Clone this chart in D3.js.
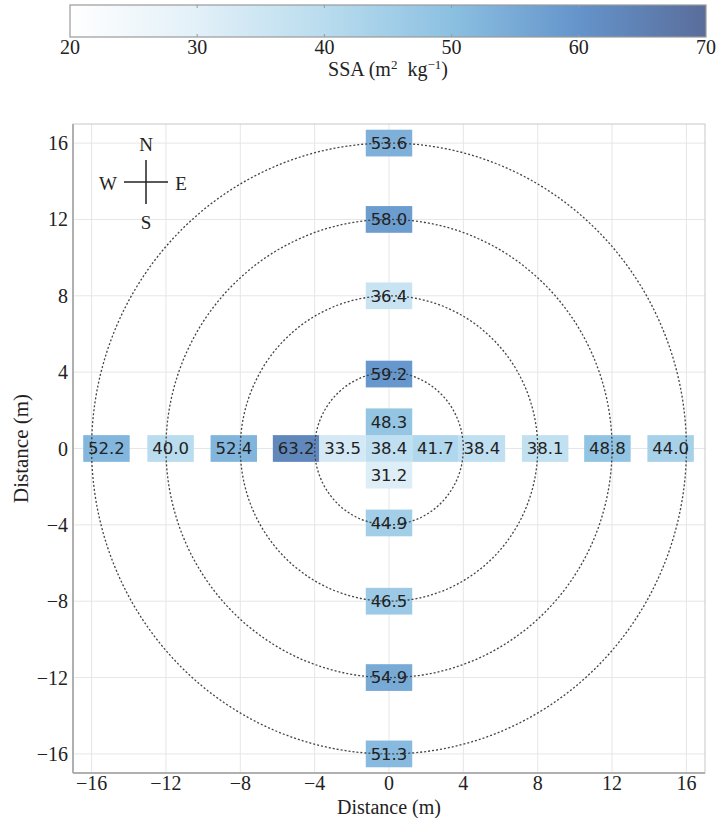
<!DOCTYPE html>
<html><head><meta charset="utf-8">
<script src="https://cdn.jsdelivr.net/npm/d3@7"></script>
<style>body{margin:0;background:#fff}svg{display:block}</style>
</head><body><svg id="c" width="718" height="818"></svg>
<script>
// Data: horizontal (W–E) transect
const rowX = [-15.2, -11.75, -8.35, -5, -2.5, 0, 2.5, 5, 8.4, 11.75, 15.15];
const rowVal = [52.2, 40.0, 52.4, 63.2, 33.5, 38.4, 41.7, 38.4, 38.1, 48.8, 44.0];
// vertical (N–S) transect (excluding centre)
const colY = [16, 12, 8, 3.9, 1.4, -1.4, -3.9, -8, -12, -16];
const colVal = [53.6, 58.0, 36.4, 59.2, 48.3, 31.2, 44.9, 46.5, 54.9, 51.3];
const ringR = [4, 8, 12, 16];
const axisTicks = [-16, -12, -8, -4, 0, 4, 8, 12, 16];
const cbTicks = [20, 30, 40, 50, 60, 70];
const cbStops = [20, 30, 40, 50, 60, 70];
const cbColors = ["#ffffff", "#e2f0f8", "#b9dcee", "#8cc0e1", "#6494cb", "#5a6d9b"];

const svg = d3.select("#c");
const x = d3.scaleLinear().domain([-17, 17]).range([73, 705]);
const y = d3.scaleLinear().domain([-17, 17]).range([773, 124]);
const color = d3.scaleLinear().domain(cbStops).range(cbColors).clamp(true);
const serif = "'Liberation Serif', 'DejaVu Serif', serif";
const sans = "'DejaVu Sans', sans-serif";

// colorbar
const cb = d3.scaleLinear().domain([20, 70]).range([70, 706]);
const defs = svg.append("defs");
const grad = defs.append("linearGradient").attr("id", "g");
cbStops.forEach((s, i) => grad.append("stop")
  .attr("offset", ((s - 20) / 50 * 100) + "%").attr("stop-color", cbColors[i]));
svg.append("rect").attr("x", cb(20)).attr("y", 5).attr("width", cb(70) - cb(20)).attr("height", 32)
  .attr("fill", "url(#g)").attr("stroke", "#9a9a9a").attr("stroke-width", 1.2);
cbTicks.forEach(t => {
  if (t > 20 && t < 70) {
    svg.append("line").attr("x1", cb(t)).attr("x2", cb(t)).attr("y1", 5).attr("y2", 8).attr("stroke", "#999");
    svg.append("line").attr("x1", cb(t)).attr("x2", cb(t)).attr("y1", 34).attr("y2", 37).attr("stroke", "#999");
  }
  svg.append("text").attr("x", cb(t)).attr("y", 54).attr("text-anchor", "middle")
    .attr("font-family", serif).attr("font-size", 20).attr("fill", "#222").text(t);
});
const cbt = svg.append("text").attr("x", 388).attr("y", 76).attr("text-anchor", "middle")
  .attr("font-family", serif).attr("font-size", 20).attr("fill", "#222");
cbt.append("tspan").text("SSA (m");
cbt.append("tspan").attr("font-size", 13).attr("dy", -7).text("2");
cbt.append("tspan").attr("dy", 7).text("\u2002kg");
cbt.append("tspan").attr("font-size", 13).attr("dy", -7).text("\u22121");
cbt.append("tspan").attr("dy", 7).text(")");

// grid
const g = svg.append("g");
axisTicks.forEach(t => {
  g.append("line").attr("x1", x(t)).attr("x2", x(t)).attr("y1", y(17)).attr("y2", y(-17))
    .attr("stroke", "#e6e6e6").attr("stroke-width", 1);
  g.append("line").attr("x1", x(-17)).attr("x2", x(17)).attr("y1", y(t)).attr("y2", y(t))
    .attr("stroke", "#e6e6e6").attr("stroke-width", 1);
});

// tiles
const tiles = rowX.map((v, i) => ({x: v, y: 0, v: rowVal[i]}))
  .concat(colY.map((v, i) => ({x: 0, y: v, v: colVal[i]})));
const tw = 2.5, th = 1.4;
svg.append("g").selectAll("rect").data(tiles).join("rect")
  .attr("x", d => x(d.x - tw / 2)).attr("y", d => y(d.y + th / 2))
  .attr("width", x(tw) - x(0)).attr("height", y(0) - y(th))
  .attr("fill", d => color(d.v));

// rings
svg.append("g").selectAll("ellipse").data(ringR).join("ellipse")
  .attr("cx", x(0)).attr("cy", y(0))
  .attr("rx", d => x(d) - x(0)).attr("ry", d => y(0) - y(d))
  .attr("fill", "none").attr("stroke", "#444").attr("stroke-width", 1.3)
  .attr("stroke-dasharray", "2,2");

// labels
svg.append("g").selectAll("text").data(tiles).join("text")
  .attr("x", d => x(d.x)).attr("y", d => y(d.y)).attr("dy", "0.36em")
  .attr("text-anchor", "middle").attr("font-family", sans).attr("font-size", 16.5)
  .attr("fill", "#222").text(d => d.v.toFixed(1));

// frame
svg.append("rect").attr("x", x(-17)).attr("y", y(17)).attr("width", x(17) - x(-17)).attr("height", y(-17) - y(17))
  .attr("fill", "none").attr("stroke", "#c8c8c8").attr("stroke-width", 1);
svg.append("line").attr("x1", x(-17)).attr("x2", x(-17)).attr("y1", y(17)).attr("y2", y(-17))
  .attr("stroke", "#b0b0b0").attr("stroke-width", 2);
svg.append("line").attr("x1", x(-17)).attr("x2", x(17)).attr("y1", y(-17)).attr("y2", y(-17))
  .attr("stroke", "#b0b0b0").attr("stroke-width", 2);

// axes labels
const fmt = d3.format("d");
axisTicks.forEach(t => {
  svg.append("text").attr("x", x(t)).attr("y", 790).attr("text-anchor", "middle")
    .attr("font-family", serif).attr("font-size", 20).attr("fill", "#222").text(fmt(t));
  svg.append("text").attr("x", 68).attr("y", y(t)).attr("dy", "0.35em").attr("text-anchor", "end")
    .attr("font-family", serif).attr("font-size", 20).attr("fill", "#222").text(fmt(t));
});
svg.append("text").attr("x", x(0)).attr("y", 814).attr("text-anchor", "middle")
  .attr("font-family", serif).attr("font-size", 20).attr("fill", "#222").text("Distance (m)");
svg.append("text").attr("transform", `translate(28,${y(0)}) rotate(-90)`).attr("text-anchor", "middle")
  .attr("font-family", serif).attr("font-size", 21).attr("fill", "#222").text("Distance (m)");

// compass
const cx = 146, cy = 182;
svg.append("line").attr("x1", cx - 22).attr("x2", cx + 22).attr("y1", cy).attr("y2", cy).attr("stroke", "#222").attr("stroke-width", 1.5);
svg.append("line").attr("x1", cx).attr("x2", cx).attr("y1", cy - 22).attr("y2", cy + 22).attr("stroke", "#222").attr("stroke-width", 1.5);
[["N", cx, cy - 38], ["S", cx, cy + 40], ["W", cx - 38, cy + 1], ["E", cx + 35, cy + 1]].forEach(([t, tx, ty]) =>
  svg.append("text").attr("x", tx).attr("y", ty).attr("dy", "0.35em").attr("text-anchor", "middle")
    .attr("font-family", serif).attr("font-size", 19).attr("fill", "#222").text(t));
</script></body></html>
